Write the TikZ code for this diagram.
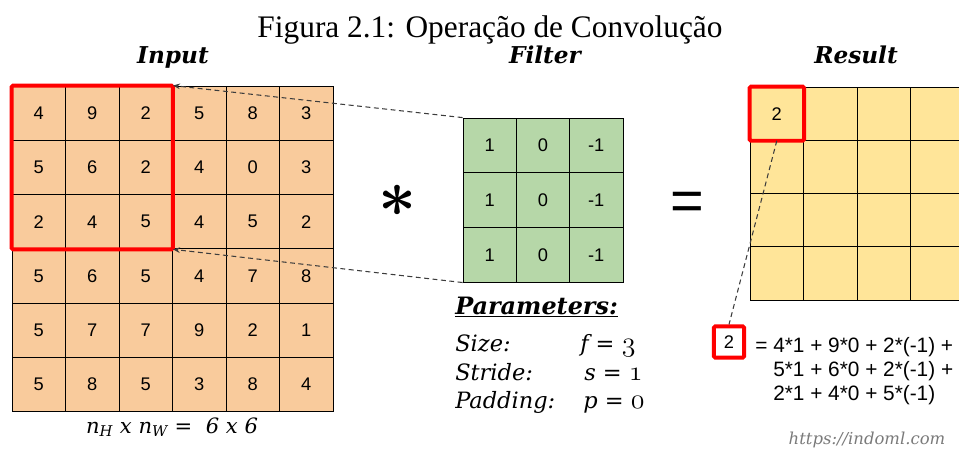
\documentclass[tikz,border=0pt]{standalone}
\usepackage{fontspec}
\setmainfont{Liberation Serif}
\newfontfamily\cellfont{Liberation Sans}
\newfontfamily\headfont{DejaVu Serif}
\usetikzlibrary{arrows.meta}
\definecolor{inorange}{HTML}{F9CB9C}
\definecolor{filtgreen}{HTML}{B6D7A8}
\definecolor{resyellow}{HTML}{FFE599}
\definecolor{winred}{HTML}{FF0000}
\definecolor{guidegray}{HTML}{3C3C3C}
\definecolor{urlgray}{HTML}{7A7A7A}
% old style digits from the math italic font
\newcommand{\oldfig}[1]{\scalebox{1.15}{\usefont{OML}{cmm}{m}{it}#1}}

\begin{document}
\begin{tikzpicture}[
  x=0.025cm, y=-0.025cm,
  cell/.style={draw=black, line width=0.6pt, minimum width=1.3375cm, minimum height=1.358cm, inner sep=0pt, font=\cellfont\fontsize{13}{15}\selectfont},
  incell/.style={cell, fill=inorange},
  fcell/.style={cell, fill=filtgreen, minimum width=1.333cm, minimum height=1.367cm},
  rcell/.style={cell, fill=resyellow, minimum width=1.34cm, minimum height=1.333cm},
  head/.style={font=\headfont\bfseries\itshape\fontsize{16.5}{18}\selectfont, anchor=base},
  param/.style={font=\headfont\itshape\fontsize{16}{18}\selectfont, anchor=base west, inner sep=0pt},
  window/.style={draw=winred, line width=2.8pt, rounded corners=1pt},
  guide/.style={dash pattern=on 3.5pt off 2.5pt, draw=guidegray, line width=0.75pt},
  tip/.style={-{Stealth[length=5pt, width=4pt]}},
]
  \clip (0,0) rectangle (959,450);

  % Caption and headings
  \node[anchor=base, font=\fontsize{22.3}{26}\selectfont] (caption) at (490,37) {Figura 2.1: Operação de Convolução};
  \node[head] (inhead) at (173,63) {Input};
  \node[head] (fhead) at (545,63) {Filter};
  \node[head] (reshead) at (856,63) {Result};

  % Input 6x6
  \foreach \row [count=\r] in {{4,9,2,5,8,3},{5,6,2,4,0,3},{2,4,5,4,5,2},{5,6,5,4,7,8},{5,7,7,9,2,1},{5,8,5,3,8,4}}
    \foreach \v [count=\c] in \row
      \node[incell] (in-\r-\c) at ({12+53.5*(\c-0.5)}, {86+54.3*(\r-0.5)}) {\v};

  % Filter 3x3
  \foreach \row [count=\r] in {{1,0,-1},{1,0,-1},{1,0,-1}}
    \foreach \v [count=\c] in \row
      \node[fcell] (filt-\r-\c) at ({463+53.3*(\c-0.5)}, {118+54.7*(\r-0.5)}) {\v};

  % Result 4x4
  \foreach \r in {1,...,4}
    \foreach \c in {1,...,4}
      \node[rcell] (res-\r-\c) at ({750+53.6*(\c-0.5)}, {87+53.3*(\r-0.5)}) {\ifnum\r=1 \ifnum\c=1 2\fi\fi};

  % Operators
  \node[inner sep=0pt] (conv) at (398,201) {\resizebox{0.95cm}{!}{{\boldmath$\ast$}}};
  \node[font=\cellfont\fontsize{41}{42}\selectfont] (equals) at (687,206) {=};

  % Windows
  \draw[window] (in-1-1.north west) rectangle (in-3-3.south east);
  \draw[window] (res-1-1.north west) rectangle (res-1-1.south east);

  % Guides
  \draw[guide, tip] (filt-1-1.north west) -- (in-1-3.north east);
  \draw[guide, tip] (filt-3-1.south west) -- (in-3-3.south east);

  % Parameters
  \node[anchor=base west, inner sep=0pt, font=\headfont\bfseries\itshape\fontsize{17}{18}\selectfont] (params) at (455,314) {\underline{Parameters:}};
  \node[param] (size) at (455,351) {Size:};
  \node[param] (stride) at (455,380) {Stride:};
  \node[param] (padding) at (455,408) {Padding:};
  \node[param] (fval) at (580,351) {f = \oldfig{3}};
  \node[param] (sval) at (584,380) {s = \oldfig{1}};
  \node[param] (pval) at (583,408) {p = \oldfig{0}};

  \node[anchor=base, font=\headfont\itshape\fontsize{15}{16}\selectfont] (dims) at (172,433) {n\textsubscript{H} x n\textsubscript{W} =\ \ 6 x 6};

  % Worked sum
  \node[window, draw, minimum width=0.76cm, minimum height=0.78cm, inner sep=0pt, font=\cellfont\fontsize{13}{15}\selectfont] (sumbox) at (729,342) {2};
  \draw[guide] (res-1-1.south) -- (sumbox.north);
  \node[anchor=north west, align=left, inner sep=0pt, font=\cellfont\fontsize{14.8}{17}\selectfont] (sumtext) at (773,337)
    {\llap{=\ }4*1 + 9*0 + 2*(-1) +\\5*1 + 6*0 + 2*(-1) +\\2*1 + 4*0 + 5*(-1)};

  \node[anchor=base, text=urlgray, font=\headfont\itshape\fontsize{11.7}{13}\selectfont] (url) at (867,444) {https://indoml.com};
\end{tikzpicture}
\end{document}
